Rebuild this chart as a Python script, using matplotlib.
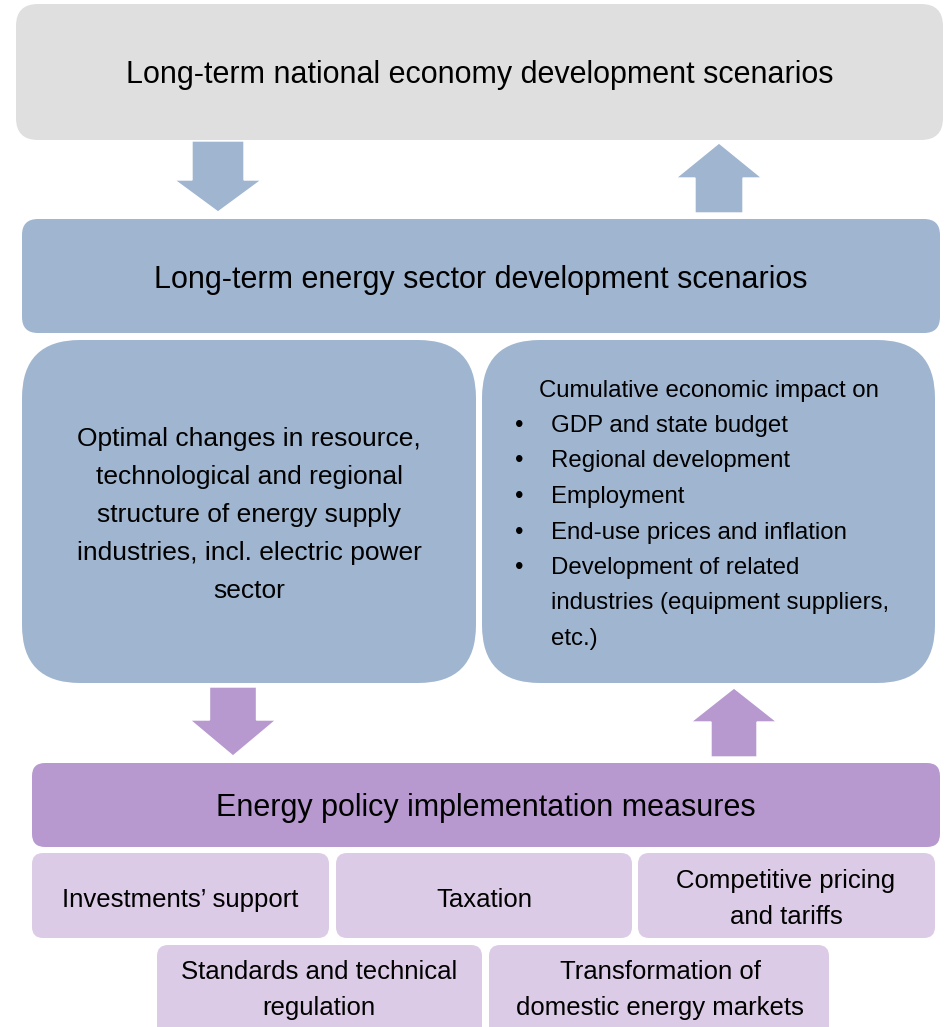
import matplotlib.pyplot as plt
from matplotlib.patches import FancyBboxPatch, Polygon

plt.rcParams["font.family"] = ["Liberation Sans", "DejaVu Sans"]

W, H = 946, 1027

GRAY = "#dfdfdf"
BLUE = "#a0b5d0"
PURPLE = "#b799d0"
LILAC = "#dccbe6"

# boxes: (x0, y0, x1, y1, radius, color)
top_box = (16, 4, 943, 140, 22, GRAY)
energy_box = (22, 219, 940, 333, 16, BLUE)
left_box = (22, 340, 476, 683, 58, BLUE)
right_box = (482, 340, 935, 683, 58, BLUE)
policy_box = (32, 763, 940, 847, 13, PURPLE)
measure_boxes = [
    (32, 853, 329, 938),
    (336, 853, 632, 938),
    (638, 853, 935, 938),
    (157, 945, 482, 1040),
    (489, 945, 829, 1040),
]

top_title = "Long-term national economy development scenarios"
energy_title = "Long-term energy sector development scenarios"
policy_title = "Energy policy implementation measures"
left_text = ("Optimal changes in resource,\ntechnological and regional\n"
             "structure of energy supply\nindustries, incl. electric power\nsector")
impact_head = "Cumulative economic impact on"
impact_items = ["GDP and state budget", "Regional development", "Employment",
                "End-use prices and inflation",
                "Development of related\nindustries (equipment suppliers,\netc.)"]
measure_labels = ["Investments’ support", "Taxation", "Competitive pricing\nand tariffs",
                  "Standards and technical\nregulation", "Transformation of\ndomestic energy markets"]

# arrows: (cx, y_tail, y_tip, shaft_w, head_w, head_len, color)
arrows = [
    (218, 141, 212, 52, 87, 32, BLUE),
    (719, 213, 143, 48, 86, 35, BLUE),
    (233, 687, 756, 47, 86, 36, PURPLE),
    (734, 757, 688, 46, 86, 34, PURPLE),
]

fig = plt.figure(figsize=(W / 100, H / 100), dpi=100)
ax = fig.add_axes([0, 0, 1, 1])
ax.set_xlim(0, W)
ax.set_ylim(H, 0)
ax.axis("off")


def box(x0, y0, x1, y1, r, color):
    ax.add_patch(FancyBboxPatch((x0, y0), x1 - x0, y1 - y0,
                                boxstyle=f"round,pad=0,rounding_size={r}",
                                fc=color, ec="none"))


def arrow(cx, yt, yp, sw, hw, hl, color):
    d = 1 if yp > yt else -1
    yb = yp - d * hl
    pts = [(cx - sw / 2, yt), (cx + sw / 2, yt), (cx + sw / 2, yb),
           (cx + hw / 2, yb), (cx, yp), (cx - hw / 2, yb), (cx - sw / 2, yb)]
    ax.add_patch(Polygon(pts, closed=True, fc=color, ec="white", lw=1))


for b in [top_box, energy_box, left_box, right_box, policy_box]:
    box(*b)
for x0, y0, x1, y1 in measure_boxes:
    box(x0, y0, x1, y1, 11, LILAC)
for a in arrows:
    arrow(*a)

ax.text(480, 75, top_title, ha="center", va="center", fontsize=22)
ax.text(481, 280, energy_title, ha="center", va="center", fontsize=22)
ax.text(486, 808, policy_title, ha="center", va="center", fontsize=22)
ax.text(249, 515, left_text, ha="center", va="center", fontsize=19,
        linespacing=1.73, multialignment="center")

ax.text(539, 391, impact_head, ha="left", va="center", fontsize=17.3)
y = 426
for item in impact_items:
    ax.text(519, y, "•", ha="center", va="center", fontsize=17.3)
    for line in item.split("\n"):
        ax.text(551, y, line, ha="left", va="center", fontsize=17.3)
        y += 35.5

centers = [(180, 900), (484, 900), (786, 899), (319, 990), (660, 990)]
for (cx, cy), lab in zip(centers, measure_labels):
    ax.text(cx, cy, lab, ha="center", va="center", fontsize=18.5,
            linespacing=1.68, multialignment="center")

fig.savefig("out.png", dpi=100, facecolor="white")
